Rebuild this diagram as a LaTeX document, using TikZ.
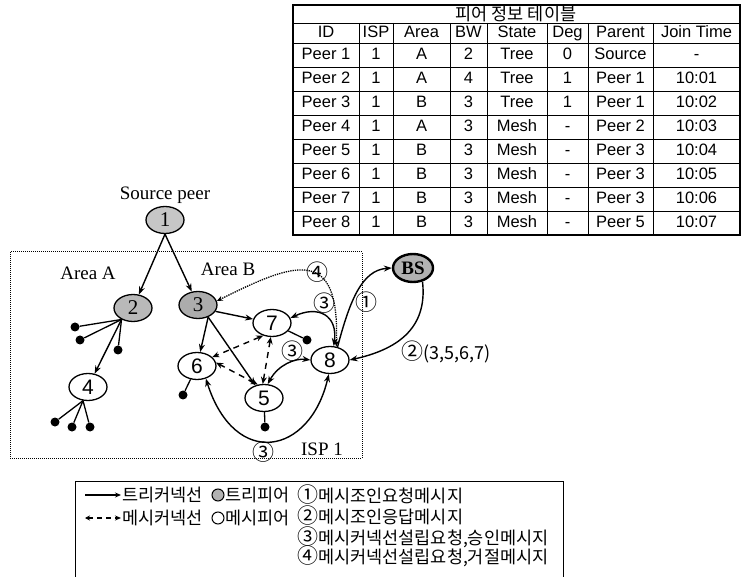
\documentclass[tikz,border=0pt]{standalone}
\usepackage{fontspec}
\setmainfont{Liberation Sans}
\newfontfamily\krfont{Noto Sans CJK KR}
\newfontfamily\serifnum{Liberation Serif}
\usetikzlibrary{arrows.meta, shapes.geometric, positioning, calc}

\begin{document}
\begin{tikzpicture}[
    x=1pt, y=1pt,
    peer/.style={ellipse, draw, line width=1.3pt, minimum width=38pt, minimum height=27pt, inner sep=0pt, font=\fontsize{21}{21}\selectfont},
    treepeer/.style={peer, fill=gray!55, font=\serifnum\fontsize{21}{21}\selectfont},
    leaf/.style={circle, fill=black, minimum size=9pt, inner sep=0pt},
    treeline/.style={-{Stealth[length=8pt, width=6pt]}, line width=1.4pt},
    meshline/.style={{Stealth[length=7pt, width=6pt]}-{Stealth[length=7pt, width=6pt]}, line width=1.4pt, dash pattern=on 6pt off 5pt},
    msg/.style={{Stealth[length=8pt, width=6pt]}-{Stealth[length=8pt, width=6pt]}, line width=1.4pt},
    lbl/.style={font=\serifnum\fontsize{19}{19}\selectfont, inner sep=0pt},
    num/.style={font=\krfont\fontsize{22}{22}\selectfont, inner sep=0pt},
    kr/.style={font=\krfont\fontsize{17.5}{17.5}\selectfont, inner sep=0pt},
    tcell/.style={font=\fontsize{16.5}{16.5}\selectfont, inner sep=0pt, text height=12pt, text depth=3pt},
]
\useasboundingbox (0,0) rectangle (742,-577);

% peer table
\draw[line width=1.2pt] (293,-5) rectangle (740,-235);
\draw[line width=0.8pt] (293,-23) -- (740,-23);
\foreach \yy in {43,67,...,211}
  \draw[line width=0.8pt] (293,-\yy) -- (740,-\yy);
\foreach \xx in {359,393,450,487,547,588,653}
  \draw[line width=0.8pt] (\xx,-23) -- (\xx,-235);
\node[kr] (title) at (516,-14) {피어 정보 테이블};
\foreach \h/\cx [count=\c] in {ID/326, ISP/376, Area/421.5, BW/468.5, State/517, Deg/567.5, Parent/620.5, Join Time/696.5}
  \node[tcell] (head-\c) at (\cx,-33) {\h};
\foreach \id/\isp/\area/\bw/\state/\dg/\pp/\jt [count=\rw] in {
    Peer 1/1/A/2/Tree/0/Source/-,
    Peer 2/1/A/4/Tree/1/Peer 1/10:01,
    Peer 3/1/B/3/Tree/1/Peer 1/10:02,
    Peer 4/1/A/3/Mesh/-/Peer 2/10:03,
    Peer 5/1/B/3/Mesh/-/Peer 3/10:04,
    Peer 6/1/B/3/Mesh/-/Peer 3/10:05,
    Peer 7/1/B/3/Mesh/-/Peer 3/10:06,
    Peer 8/1/B/3/Mesh/-/Peer 5/10:07}{
  \pgfmathsetmacro{\ry}{-31-24*\rw}
  \node[tcell] (id-\rw) at (326,\ry) {\id};
  \node[tcell] (isp-\rw) at (376,\ry) {\isp};
  \node[tcell] (area-\rw) at (421.5,\ry) {\area};
  \node[tcell] (bw-\rw) at (468.5,\ry) {\bw};
  \node[tcell] (state-\rw) at (517,\ry) {\state};
  \node[tcell] (deg-\rw) at (567.5,\ry) {\dg};
  \node[tcell] (parent-\rw) at (620.5,\ry) {\pp};
  \node[tcell] (join-\rw) at (696.5,\ry) {\jt};
}

% ISP area
\draw[densely dotted, line width=1pt] (10,-252) rectangle (362,-458);
\node[lbl] (srclabel) at (165,-195) {Source peer};
\node[lbl] (areaA) at (88,-273) {Area A};
\node[lbl] (areaB) at (228,-269) {Area B};
\node[lbl] (isp) at (322,-449) {ISP 1};

% peers
\node[treepeer, fill=gray!45] (n1) at (165,-220) {1};
\node[treepeer] (n2) at (133,-308) {2};
\node[treepeer, fill=gray!65] (n3) at (198,-305) {3};
\node[peer] (n4) at (88,-387) {4};
\node[peer] (n5) at (264,-398) {5};
\node[peer] (n6) at (197,-366) {6};
\node[peer] (n7) at (272,-323) {7};
\node[peer] (n8) at (330,-360) {8};
\node[treepeer, fill=gray!60, line width=2.4pt, minimum width=40pt, minimum height=28pt, font=\serifnum\bfseries\fontsize{19}{19}\selectfont] (bs) at (413,-268) {BS};

% leaf peers
\node[leaf] (l2a) at (75,-327) {};
\node[leaf] (l2b) at (80,-340) {};
\node[leaf] (l2c) at (118,-350) {};
\node[leaf] (l4a) at (55,-422) {};
\node[leaf] (l4b) at (72,-427) {};
\node[leaf] (l4c) at (90,-427) {};
\node[leaf] (l7) at (307,-340) {};
\node[leaf] (l6) at (183,-395) {};
\node[leaf] (l5) at (265,-427) {};
\foreach \l in {l2a,l2b,l2c}
  \draw[line width=1.3pt] (n2.225) -- (\l);
\foreach \l in {l4a,l4b,l4c}
  \draw[line width=1.3pt] (n4.250) -- (\l);
\draw[line width=1.3pt] (n7) -- (l7);
\draw[line width=1.3pt] (n6) -- (l6);
\draw[line width=1.3pt] (n5) -- (l5);

% tree connections
\draw[treeline] (n1.south) -- (n2);
\draw[treeline] (n1.south) -- (n3);
\draw[treeline] (n2.225) -- (n4);
\draw[treeline] (n3.-20) -- (n7);
\draw[treeline] (n3.-50) -- (n6);
\draw[treeline] (n3.-50) -- (n5);

% mesh connections
\draw[meshline] (n5.95) -- (n7.265);
\draw[meshline] (n7.235) -- (n6.30);
\draw[meshline] (n5.115) -- (n6.10);

% messages
\draw[msg] (n7.15) .. controls (318,-305) and (338,-315) .. (n8.75);
\draw[msg] (n8.west) .. controls (295,-358) and (278,-365) .. (n5.75);
\draw[msg] (n6.-55) .. controls (235,-470) and (310,-455) .. (n8.-95);
\draw[treeline] (n8.60) .. controls (350,-300) and (362,-270) .. (bs.west);
\draw[treeline] (bs.-55) .. controls (428,-330) and (395,-350) .. (n8.east);
\draw[densely dotted, line width=1.3pt, {Stealth[length=6pt, width=5pt]}-{Stealth[length=6pt, width=5pt]}] (n3.12) .. controls (295,-262) and (340,-245) .. (n8.65);
\node[num] (m4) at (317,-272) {④};
\node[num] (m3a) at (324,-303) {③};
\node[num] (m3b) at (292,-351) {③};
\node[num] (m3c) at (263,-452) {③};
\node[num] (m1) at (366,-302) {①};
\node[num, anchor=west] (m2) at (401,-352) {②\fontsize{18}{18}\selectfont(3,5,6,7)};

% legend
\draw[line width=1pt] (75,-577) -- (75,-481) -- (563,-481) -- (563,-577);
\coordinate (ta) at (85,-495);
\coordinate (tb) at (121,-495);
\coordinate (ma) at (85,-518);
\coordinate (mb) at (121,-518);
\draw[line width=1.1pt, -{Stealth[length=6pt, width=5pt]}] (ta) -- (tb);
\draw[line width=1.1pt, dash pattern=on 5pt off 4pt, {Stealth[length=5pt, width=5pt]}-{Stealth[length=6pt, width=5pt]}] (ma) -- (mb);
\node[kr, anchor=west] (lg-tc) at (122,-495) {트리커넥선};
\node[kr, anchor=west] (lg-mc) at (122,-518) {메시커넥선};
\node[circle, draw, fill=gray!60, line width=1pt, minimum size=12pt, inner sep=0pt] (lg-tp) at (218,-495) {};
\node[circle, draw, line width=1pt, minimum size=12pt, inner sep=0pt] (lg-mp) at (218,-518) {};
\node[kr, anchor=west] (lg-tpt) at (225,-495) {트리피어};
\node[kr, anchor=west] (lg-mpt) at (225,-518) {메시피어};
\node[kr, anchor=west] (lg-m1) at (297,-495) {\fontsize{21}{21}\selectfont①\fontsize{17.5}{17.5}\selectfont 메시조인요청메시지};
\node[kr, anchor=west] (lg-m2) at (297,-516) {\fontsize{21}{21}\selectfont②\fontsize{17.5}{17.5}\selectfont 메시조인응답메시지};
\node[kr, anchor=west] (lg-m3) at (297,-537) {\fontsize{21}{21}\selectfont③\fontsize{17.5}{17.5}\selectfont 메시커넥선설립요청,승인메시지};
\node[kr, anchor=west] (lg-m4) at (297,-556) {\fontsize{21}{21}\selectfont④\fontsize{17.5}{17.5}\selectfont 메시커넥선설립요청,거절메시지};
\end{tikzpicture}
\end{document}
